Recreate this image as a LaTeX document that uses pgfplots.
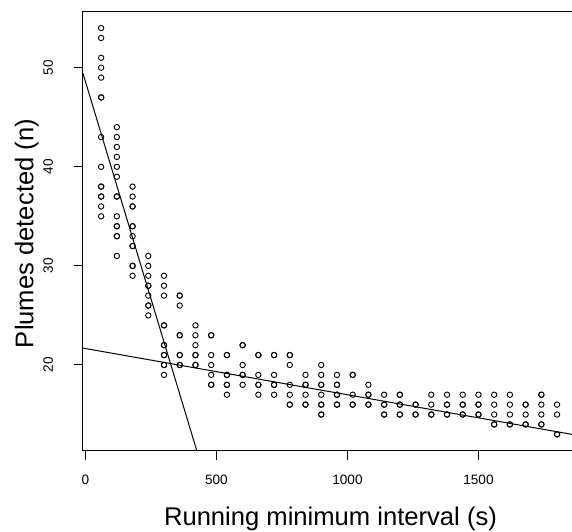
\documentclass[border=0pt]{standalone}
\usepackage{pgfplots}
\pgfplotsset{compat=1.18}
\usepackage{fontspec}
\setmainfont{Liberation Sans}
\begin{document}
\begin{tikzpicture}
\useasboundingbox (-41.45pt,-40.2pt) rectangle (244.55pt,225.3pt);
\begin{axis}[
  at={(0,0)}, anchor=south west,
  scale only axis, width=246.2pt, height=219.4pt,
  xmin=-9.6, xmax=1869.6, ymin=11.36, ymax=55.64,
  xtick={0,500,1000,1500}, ytick={20,30,40,50},
  /pgf/number format/assume math mode=true,
  /pgf/number format/1000 sep={},
  tick align=outside, xtick pos=bottom, ytick pos=left,
  major tick length=4.5pt,
  tick style={black, line width=0.5pt},
  axis line style={black, line width=0.5pt},
  ticklabel style={font=\fontsize{6.8}{8}\selectfont},
  xticklabel style={anchor=base},
  yticklabel style={rotate=90, anchor=base},
  xticklabel shift=12.2pt,
  yticklabel shift=10.5pt,
  label style={font=\fontsize{12.8}{15}\selectfont},
  xlabel={Running minimum interval (s)},
  ylabel={Plumes detected (n)},
  xlabel style={at={(axis description cs:0.5028,-0.1709)}, anchor=base},
  ylabel style={at={(axis description cs:-0.1007,0.4948)}, anchor=base},
  clip=true,
]
\addplot[only marks, mark=o, mark size=1.35pt, black, mark options={line width=0.45pt}] coordinates {
(60,54) (60,53) (60,51) (60,50) (60,49) (60,47) (60,47) (60,43) (60,40) (60,38) (60,38) (60,37) (60,37) (60,36) (60,35)
(120,44) (120,43) (120,42) (120,41) (120,40) (120,39) (120,37) (120,37) (120,35) (120,34) (120,34) (120,33) (120,33) (120,31)
(180,38) (180,37) (180,36) (180,36) (180,34) (180,34) (180,33) (180,32) (180,32) (180,30) (180,30) (180,29)
(240,31) (240,30) (240,29) (240,28) (240,28) (240,27) (240,26) (240,26) (240,25)
(300,29) (300,28) (300,27) (300,24) (300,24) (300,22) (300,22) (300,21) (300,21) (300,20) (300,20) (300,19)
(360,27) (360,27) (360,26) (360,23) (360,23) (360,21) (360,21) (360,20) (360,20)
(420,24) (420,23) (420,22) (420,21) (420,21) (420,20) (420,20)
(480,23) (480,23) (480,21) (480,20) (480,19) (480,18) (480,18)
(540,21) (540,21) (540,19) (540,19) (540,18) (540,18) (540,17)
(600,22) (600,22) (600,20) (600,19) (600,19) (600,18)
(660,21) (660,21) (660,19) (660,18) (660,18) (660,17)
(720,21) (720,21) (720,19) (720,18) (720,18) (720,17)
(780,21) (780,21) (780,20) (780,18) (780,17) (780,16) (780,16)
(840,19) (840,18) (840,18) (840,17) (840,16) (840,16)
(900,20) (900,19) (900,18) (900,18) (900,17) (900,16) (900,16) (900,15) (900,15)
(960,19) (960,18) (960,18) (960,17) (960,17) (960,16) (960,16)
(1020,19) (1020,19) (1020,17) (1020,16) (1020,16)
(1080,18) (1080,17) (1080,17) (1080,16) (1080,16)
(1140,17) (1140,16) (1140,16) (1140,15) (1140,15)
(1200,17) (1200,17) (1200,16) (1200,16) (1200,15) (1200,15)
(1260,16) (1260,16) (1260,15) (1260,15)
(1320,17) (1320,16) (1320,15) (1320,15)
(1380,17) (1380,16) (1380,16) (1380,15) (1380,15)
(1440,17) (1440,16) (1440,16) (1440,15) (1440,15)
(1500,17) (1500,16) (1500,16) (1500,15) (1500,15)
(1560,17) (1560,16) (1560,15) (1560,14) (1560,14)
(1620,17) (1620,16) (1620,15) (1620,14) (1620,14)
(1680,16) (1680,16) (1680,15) (1680,14) (1680,14)
(1740,17) (1740,17) (1740,16) (1740,15) (1740,14) (1740,14)
(1800,16) (1800,15) (1800,13) (1800,13)
};
\addplot[black, line width=0.5pt, no marks] coordinates {(-9.6,49.45) (440,10.04)};
\addplot[black, line width=0.5pt, no marks] coordinates {(-9.6,21.705) (1869.6,12.94)};
\end{axis}
\end{tikzpicture}
\end{document}
